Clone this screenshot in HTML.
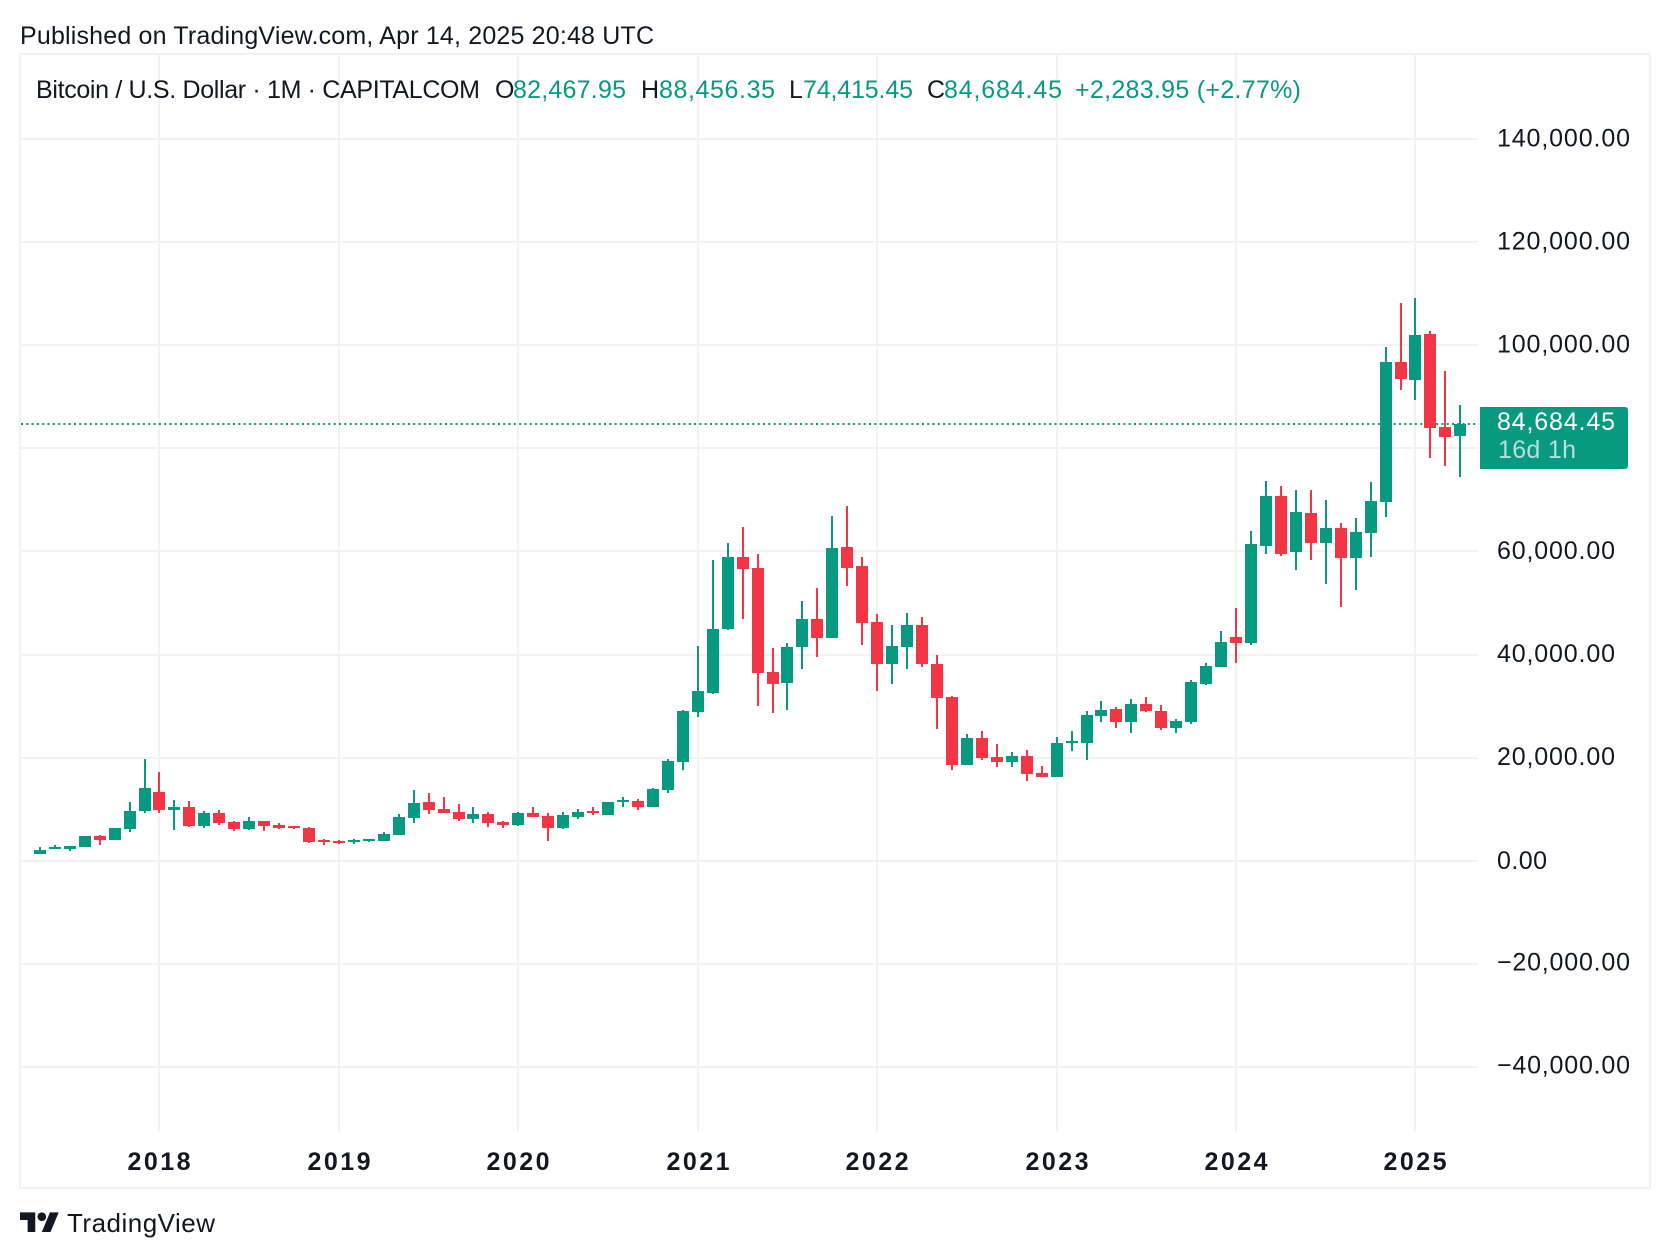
<!DOCTYPE html>
<html lang="en">
<head>
<meta charset="utf-8">
<title>Bitcoin / U.S. Dollar monthly chart</title>
<style>
html,body{margin:0;padding:0;background:#fff;width:1670px;height:1258px;overflow:hidden}
svg{display:block;position:absolute;left:0;top:0}
text{font-family:"Liberation Sans",Arial,sans-serif;fill:#131722}
.legend{font-size:25px}
.up{fill:#089981}
</style>
</head>
<body>
<svg id="chart" xmlns="http://www.w3.org/2000/svg" width="1670" height="1258" viewBox="0 0 1670 1258">
  <text x="20" y="44" font-size="25" textLength="634" lengthAdjust="spacing">Published on TradingView.com, Apr 14, 2025 20:48 UTC</text>
  <rect x="20" y="54" width="1630" height="1134" fill="none" stroke="#f2f2f3" stroke-width="2"/>
  <g id="grid"></g>
  <line id="price-line" x1="21" x2="1478" stroke="#089981" stroke-width="2" stroke-dasharray="2 3.3"/>
  <g id="candles"></g>
  <g id="axis-labels"></g>
  <g id="legend" class="legend">
    <text x="36" y="98" textLength="444" lengthAdjust="spacing">Bitcoin / U.S. Dollar · 1M · CAPITALCOM</text>
    <text x="495" y="98">O</text>
    <text class="up" x="513" y="98" textLength="113" lengthAdjust="spacing">82,467.95</text>
    <text x="641" y="98">H</text>
    <text class="up" x="659" y="98" textLength="116" lengthAdjust="spacing">88,456.35</text>
    <text x="789" y="98">L</text>
    <text class="up" x="803" y="98" textLength="110" lengthAdjust="spacing">74,415.45</text>
    <text x="927" y="98">C</text>
    <text class="up" x="944" y="98" textLength="118" lengthAdjust="spacing">84,684.45</text>
    <text class="up" x="1075" y="98" textLength="226" lengthAdjust="spacing">+2,283.95 (+2.77%)</text>
  </g>
  <g id="price-tag">
    <path d="M1480 -17H1625a3 3 0 0 1 3 3V42a3 3 0 0 1 -3 3H1480Z" fill="#089981"/>
    <text x="1497" y="6" font-size="25" style="fill:#ffffff" textLength="118" lengthAdjust="spacing">84,684.45</text>
    <text x="1498" y="34" font-size="25" style="fill:#b5e0d8" textLength="78" lengthAdjust="spacing">16d 1h</text>
  </g>
  <g id="logo">
    <g transform="translate(20 1208) scale(1.09)" fill="#131722">
      <path d="M14 22H7V11H0V4h14v18zM28 22h-8l7.5-18h8L28 22z"/>
      <circle cx="20" cy="8" r="4"/>
    </g>
    <text x="67" y="1232" font-size="26" textLength="148" lengthAdjust="spacing">TradingView</text>
  </g>
</svg>
<script>
var months = [
"2017-05","2017-06","2017-07","2017-08","2017-09","2017-10","2017-11","2017-12",
"2018-01","2018-02","2018-03","2018-04","2018-05","2018-06","2018-07","2018-08","2018-09","2018-10","2018-11","2018-12",
"2019-01","2019-02","2019-03","2019-04","2019-05","2019-06","2019-07","2019-08","2019-09","2019-10","2019-11","2019-12",
"2020-01","2020-02","2020-03","2020-04","2020-05","2020-06","2020-07","2020-08","2020-09","2020-10","2020-11","2020-12",
"2021-01","2021-02","2021-03","2021-04","2021-05","2021-06","2021-07","2021-08","2021-09","2021-10","2021-11","2021-12",
"2022-01","2022-02","2022-03","2022-04","2022-05","2022-06","2022-07","2022-08","2022-09","2022-10","2022-11","2022-12",
"2023-01","2023-02","2023-03","2023-04","2023-05","2023-06","2023-07","2023-08","2023-09","2023-10","2023-11","2023-12",
"2024-01","2024-02","2024-03","2024-04","2024-05","2024-06","2024-07","2024-08","2024-09","2024-10","2024-11","2024-12",
"2025-01","2025-02","2025-03","2025-04"];
var opens = [
1294,2265,2265,2654,4789,4013,6148,9643,13332,9838,
10420,6731,9255,7507,6148,7702,6925,6731,6343,4013,
3818,3624,3818,3818,4983,8284,11391,10032,9449,8090,
9061,7507,6925,9255,8672,6343,8478,9643,8866,11391,
11585,10420,13721,19157,28865,32554,44980,58959,56824,36631,
34496,41485,46922,43233,60901,57213,46339,38185,41485,45757,
38185,31777,18575,23817,20128,19157,20322,17021,16245,22846,
22846,28089,29447,26924,30418,29059,25758,26924,34302,37602,
43427,42262,61096,70803,59931,67503,61678,64591,58765,63619,
69639,96823,93327,102257,84201,82467.95];
var highs = [
2654,3042,2848,4789,4983,6343,11391,19739,17215,11779,
11585,9643,9838,7702,8478,7702,7313,6731,6537,4207,
4013,4207,4207,5566,9061,13721,13138,12362,11002,10420,
9449,7702,9449,10420,9255,9449,10032,10420,11391,12362,
11973,14109,19739,29253,41680,58377,61678,64785,59542,41291,
42261,50417,52941,66920,68862,58959,47893,45757,48086,47310,
39932,31971,24594,25176,22652,21099,21487,18380,24011,25176,
29059,31001,29836,31389,31777,30224,27506,35078,38379,44592,
49058,64008,73715,72745,71967,71967,70026,65562,66532,73521,
99735,108276,109247,102840,95073,88456.35];
var lows = [
1294,2265,1877,2654,3042,4013,5566,9255,9255,5954,
6537,6343,6925,5760,5954,5760,6148,6148,3430,3042,
3236,3236,3624,3818,4983,7313,9061,9255,7702,7313,
6537,6343,6731,8478,3818,6148,8090,8866,8866,10420,
9838,10420,13138,17604,27894,32360,44786,46922,30030,28671,
29253,37214,39544,43233,53329,41873,32942,34302,37214,37602,
25564,17604,18575,19546,18186,18186,15468,16245,16245,21293,
19546,26924,25758,24788,28865,25370,24788,26535,34108,37602,
38379,41873,59542,59154,56436,58377,53718,49253,52553,58959,
66726,91385,89443,78182,76628,74415.45];
var closes = [
2071,2654,2848,4789,4013,6343,9643,14109,9838,10420,
6731,9255,7313,6148,7702,6731,6343,6343,3624,3624,
3430,4013,4207,5178,8478,11197,9838,9255,8090,9061,
7313,6925,9255,8478,6343,8866,9449,9255,11391,11779,
10420,13915,19351,29059,32942,44980,58959,56630,36437,34302,
41485,46922,43233,60707,56824,46145,38185,41680,45757,38185,
31583,18575,23817,19934,19157,20322,16827,16245,22846,23235,
28283,29253,26924,30418,29059,25758,27118,34690,37796,42456,
42262,61484,70803,59542,67697,61678,64591,58765,63814,69833,
96823,93521,102063,84007,82260,84684.45];
var priceTicks = [140000,120000,100000,80000,60000,40000,20000,0,-20000,-40000];
var priceLabels = ["140,000.00","120,000.00","100,000.00","","60,000.00","40,000.00","20,000.00","0.00","\u221220,000.00","\u221240,000.00"];
var yearTicks = ["2018-01","2019-01","2020-01","2021-01","2022-01","2023-01","2024-01","2025-01"];
var yearLabels = ["2018","2019","2020","2021","2022","2023","2024","2025"];

var NS = "http://www.w3.org/2000/svg";
function xScale(i){ return Math.round(39.86 + (15 - 1 / 21) * i); }
function yScale(v){ return 860.7 - v * 103.1 / 20000; }
function makeRect(parent, x, y, w, h, fill){
  var r = document.createElementNS(NS, "rect");
  r.setAttribute("x", x);
  r.setAttribute("y", y);
  r.setAttribute("width", w);
  r.setAttribute("height", h);
  r.setAttribute("fill", fill);
  r.setAttribute("shape-rendering", "crispEdges");
  parent.appendChild(r);
  return r;
}
var gridGroup = document.getElementById("grid");
var labelGroup = document.getElementById("axis-labels");
var gridColor = "#f2f2f3";

priceTicks.forEach(function(tick, k){
  var y = yScale(tick);
  var line = makeRect(gridGroup, 21, Math.round(y - 1), 1457, 2, gridColor);
  
  
  if (priceLabels[k]) {
    var t = document.createElementNS(NS, "text");
    
    
    var s = priceLabels[k];
    var isZero = s === "0.00";
    var isSix = s.length === 9;
    t.setAttribute("x", 1497);
    t.setAttribute("y", y + (tick > 0 ? 7.5 : (isZero ? 8.5 : 6.5)));
    t.setAttribute("font-size", "25");
    t.setAttribute("textLength", isZero ? 50 : (isSix ? 118 : 133));
    t.setAttribute("lengthAdjust", "spacing");
    t.textContent = s;
    labelGroup.appendChild(t);
  }
});

yearTicks.forEach(function(m, k){
  var x = xScale(months.indexOf(m));
  var line = makeRect(gridGroup, x - 1, 55, 2, 1077, gridColor);
  
  
  var t = document.createElementNS(NS, "text");
  
  
  t.setAttribute("x", x);
  t.setAttribute("y", 1170);
  t.setAttribute("font-size", "25");
  t.setAttribute("font-weight", "700");
  t.setAttribute("text-anchor", "middle");
  t.setAttribute("textLength", "63");
  t.setAttribute("lengthAdjust", "spacing");
  t.textContent = yearLabels[k];
  labelGroup.appendChild(t);
});

var candleGroup = document.getElementById("candles");
months.forEach(function(m, i){
  var up = closes[i] >= opens[i];
  var color = up ? "#089981" : "#f23645";
  var cx = xScale(i);
  var g = document.createElementNS(NS, "g");
  
  
  g.setAttribute("data-month", m);
  var hiY = Math.round(yScale(highs[i]));
  var loY = Math.round(yScale(lows[i]));
  var topY = Math.round(yScale(Math.max(opens[i], closes[i])));
  var botY = Math.round(yScale(Math.min(opens[i], closes[i])));
  var wick = makeRect(g, cx - 1, hiY, 2, Math.max(loY - hiY, 1), color);
  
  
  var body = makeRect(g, cx - 6, topY, 12, Math.max(botY - topY, 2), color);
  
  
  candleGroup.appendChild(g);
});

var lastY = Math.floor(yScale(closes[closes.length - 1]));
var priceLine = document.getElementById("price-line");
priceLine.setAttribute("y1", lastY);
priceLine.setAttribute("y2", lastY);
document.getElementById("price-tag").setAttribute("transform", "translate(0 " + lastY + ")");
</script>
</body>
</html>
